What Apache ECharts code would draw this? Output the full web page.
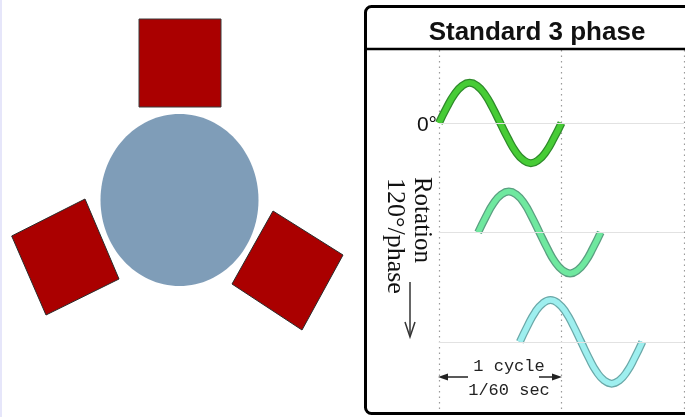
<!DOCTYPE html>
<html>
<head>
<meta charset="utf-8">
<script src="https://cdn.jsdelivr.net/npm/echarts@6/dist/echarts.min.js"></script>
<style>
html,body{margin:0;padding:0;background:#fff;}
#chart{width:685px;height:417px;}
</style>
</head>
<body>
<div id="chart"></div>
<script>
// ---- data ----
// position within one cycle (fraction of a cycle) and the normalised wave height at that position
const cyclePositions = [0, 0.0625, 0.125, 0.1875, 0.25, 0.3125, 0.375, 0.4375, 0.5, 0.5625, 0.625, 0.6875, 0.75, 0.8125, 0.875, 0.9375, 1];
const waveHeights    = [0, 0.38, 0.71, 0.92, 1, 0.92, 0.71, 0.38, 0, -0.38, -0.71, -0.92, -1, -0.92, -0.71, -0.38, 0];
const phaseNames     = ['0°', '120°', '240°'];
const phaseStarts    = [0, 0.32, 0.66];        // start of each wave, in cycles
const phaseBaselines = [0, -2.67, -5.34];      // zero line of each wave
const phaseAmplitudes = [0.98, 1.0, 1.02];
const xTicks = [0, 1, 2];                      // cycles (dotted lines)

const waveFill    = ['#47cc36', '#6fe89f', '#9eefef'];
const waveOutline = ['#2e8a2a', '#5a9f80', '#6aa8a8'];

function waveData(i) {
  return cyclePositions.map((p, k) => [phaseStarts[i] + p, phaseBaselines[i] + phaseAmplitudes[i] * waveHeights[k]]);
}

const series = [];
phaseNames.forEach((name, i) => {
  series.push({
    name: name + ' outline', type: 'line', data: waveData(i), smooth: true,
    showSymbol: false, silent: true, animation: false,
    lineStyle: { color: waveOutline[i], width: 8, cap: 'butt' },
    markLine: {
      silent: true, symbol: 'none', animation: false, label: { show: false },
      lineStyle: { color: '#e2e2e2', width: 1, type: 'solid' },
      data: [{ yAxis: phaseBaselines[i] }]
    },
    z: 2
  });
});
phaseNames.forEach((name, i) => {
  series.push({
    name: name, type: 'line', data: waveData(i), smooth: true,
    showSymbol: false, silent: true, animation: false,
    lineStyle: { color: waveFill[i], width: 5.5, cap: 'butt' },
    z: 3
  });
});

const chart = echarts.init(document.getElementById('chart'), null, { renderer: 'canvas' });
const serif = '"Liberation Serif", "DejaVu Serif", serif';
const mono = '"Liberation Mono", "DejaVu Sans Mono", monospace';
const sans = '"Liberation Sans", Arial, sans-serif';

chart.setOption({
  backgroundColor: '#ffffff',
  animation: false,
  grid: { left: 439, right: 1, top: 50, bottom: 3, containLabel: false },
  xAxis: {
    type: 'value', min: xTicks[0], max: xTicks[xTicks.length - 1], interval: 1,
    axisLine: { show: false }, axisTick: { show: false }, axisLabel: { show: false },
    splitLine: { show: true, lineStyle: { color: '#9a9a9a', width: 1.2, type: [1.5, 4] } }
  },
  yAxis: {
    type: 'value', min: -7.1, max: 1.78,
    axisLine: { show: false }, axisTick: { show: false }, axisLabel: { show: false },
    splitLine: { show: false }
  },
  series: series,
  graphic: [
    { type: 'rect', shape: { x: 0, y: 0, width: 2, height: 417 }, style: { fill: '#e6e6fa' }, silent: true },
    // machine sketch
    { type: 'rect', shape: { x: 139, y: 19, width: 82, height: 88 }, style: { fill: '#aa0000', stroke: '#3a3a3a', lineWidth: 1 }, silent: true },
    { type: 'ellipse', shape: { cx: 179.5, cy: 200, rx: 79, ry: 86 }, style: { fill: '#7f9db8' }, silent: true },
    { type: 'polygon', shape: { points: [[11.7, 236], [85, 199], [119, 279], [46, 315]] }, style: { fill: '#aa0000', stroke: '#2a2a2a', lineWidth: 1 }, silent: true },
    { type: 'polygon', shape: { points: [[273, 211], [343, 255], [302, 330], [232, 284]] }, style: { fill: '#aa0000', stroke: '#2a2a2a', lineWidth: 1 }, silent: true },
    // panel
    { type: 'rect', shape: { x: 365.5, y: 6.5, width: 345, height: 407, r: 6 }, style: { fill: null, stroke: '#000', lineWidth: 3 }, silent: true, z: 10 },
    { type: 'line', shape: { x1: 365, y1: 49, x2: 685, y2: 49 }, style: { stroke: '#000', lineWidth: 2.5 }, silent: true, z: 10 },
    { type: 'text', x: 537, y: 33, silent: true, z: 10,
      style: { text: 'Standard 3 phase', font: 'bold 26px ' + sans, fill: '#111', textAlign: 'center', textVerticalAlign: 'middle' } },
    { type: 'text', x: 437, y: 125, silent: true, z: 10,
      style: { text: phaseNames[0], font: '21px ' + sans, fill: '#111', textAlign: 'right', textVerticalAlign: 'middle' } },
    { type: 'text', x: 422, y: 220, rotation: -Math.PI / 2, silent: true, z: 10,
      style: { text: 'Rotation', font: '25px ' + serif, fill: '#111', textAlign: 'center', textVerticalAlign: 'middle' } },
    { type: 'text', x: 395, y: 236, rotation: -Math.PI / 2, silent: true, z: 10,
      style: { text: '120°/phase', font: '26px ' + serif, fill: '#111', textAlign: 'center', textVerticalAlign: 'middle' } },
    { type: 'line', shape: { x1: 410, y1: 282, x2: 410, y2: 336 }, style: { stroke: '#333', lineWidth: 1.5 }, silent: true, z: 10 },
    { type: 'polyline', shape: { points: [[405, 322], [410, 337], [415, 322]] }, style: { stroke: '#333', lineWidth: 1.5, fill: null }, silent: true, z: 10 },
    { type: 'text', x: 509, y: 366, silent: true, z: 10,
      style: { text: '1 cycle', font: '17px ' + mono, fill: '#222', textAlign: 'center', textVerticalAlign: 'middle' } },
    { type: 'text', x: 509, y: 390, silent: true, z: 10,
      style: { text: '1/60 sec', font: '17px ' + mono, fill: '#222', textAlign: 'center', textVerticalAlign: 'middle' } },
    { type: 'line', shape: { x1: 445, y1: 377, x2: 468, y2: 377 }, style: { stroke: '#222', lineWidth: 1.5 }, silent: true, z: 10 },
    { type: 'polygon', shape: { points: [[438, 377], [448, 373.5], [448, 380.5]] }, style: { fill: '#222' }, silent: true, z: 10 },
    { type: 'line', shape: { x1: 539, y1: 377, x2: 555, y2: 377 }, style: { stroke: '#222', lineWidth: 1.5 }, silent: true, z: 10 },
    { type: 'polygon', shape: { points: [[562, 377], [552, 373.5], [552, 380.5]] }, style: { fill: '#222' }, silent: true, z: 10 }
  ]
});
</script>
</body>
</html>
